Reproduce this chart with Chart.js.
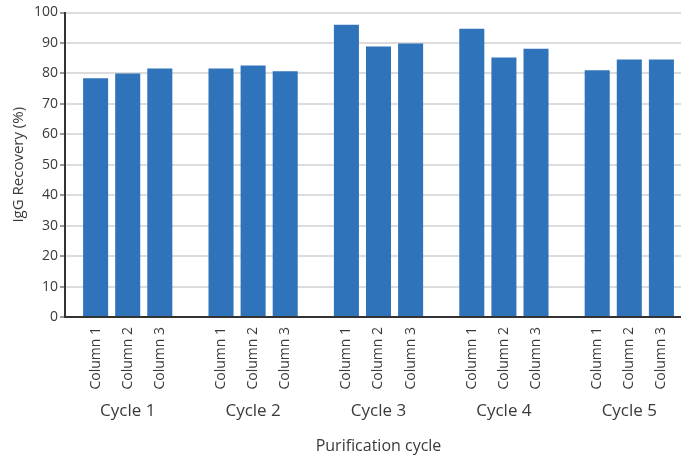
<!DOCTYPE html>
<html>
<head>
<meta charset="utf-8">
<script src="https://cdn.jsdelivr.net/npm/chart.js@4/dist/chart.umd.min.js"></script>
<style>
  html, body { margin: 0; padding: 0; background: #fff; overflow: hidden; }
  #wrap { width: 692px; height: 460px; }
</style>
</head>
<body>
<div id="wrap"><canvas id="recoveryChart"></canvas></div>
<script>
// IgG recovery per column, per purification cycle
const cycles = ['Cycle 1', 'Cycle 2', 'Cycle 3', 'Cycle 4', 'Cycle 5'];
const columns = ['Column 1', 'Column 2', 'Column 3'];
const column1 = [78.4, 81.6, 96.0, 94.7, 81.0];
const column2 = [80.0, 82.6, 88.8, 85.2, 84.6];
const column3 = [81.6, 80.7, 89.8, 88.1, 84.6];
const yTicks = [0, 10, 20, 30, 40, 50, 60, 70, 80, 90, 100];

const BAR_COLOR = '#2f73ba';
const TEXT_COLOR = '#3a3a3a';
const FONT = '"Open Sans", sans-serif';

// draws "Column n" under each bar, rotated
const columnLabels = {
    id: 'columnLabels',
    afterDraw(chart) {
        const ctx = chart.ctx;
        const bottom = chart.chartArea.bottom;
        ctx.save();
        ctx.fillStyle = TEXT_COLOR;
        ctx.font = '14px ' + FONT;
        ctx.textAlign = 'right';
        ctx.textBaseline = 'middle';
        chart.data.datasets.forEach((ds, i) => {
            chart.getDatasetMeta(i).data.forEach(bar => {
                ctx.save();
                ctx.translate(bar.x, bottom + 10);
                ctx.rotate(-Math.PI / 2);
                ctx.fillText(ds.label, 0, 0);
                ctx.restore();
            });
        });
        ctx.restore();
    }
};

const ctx = document.getElementById('recoveryChart').getContext('2d');

new Chart(ctx, {
    type: 'bar',
    data: {
        labels: cycles,
        datasets: [column1, column2, column3].map((vals, i) => ({
            label: columns[i],
            data: vals,
            backgroundColor: BAR_COLOR,
            borderWidth: 0,
            categoryPercentage: 0.768,
            barPercentage: 0.78
        }))
    },
    options: {
        responsive: true,
        maintainAspectRatio: false,
        animation: false,
        layout: {
            padding: { left: 6, top: 12.5, right: 0, bottom: 2 }
        },
        plugins: {
            legend: { display: false },
            tooltip: { enabled: false }
        },
        scales: {
            x: {
                grid: { display: false, drawTicks: false },
                border: { color: '#333', width: 2 },
                ticks: {
                    color: TEXT_COLOR,
                    font: { family: FONT, size: 17 },
                    padding: 84,
                    maxRotation: 0
                },
                title: {
                    display: true,
                    text: 'Purification cycle',
                    color: TEXT_COLOR,
                    font: { family: FONT, size: 16 },
                    padding: { top: 14, bottom: 2 }
                },
                // room under the bars for the rotated column labels
                afterFit: axis => {
                    axis.height = 141;
                    axis.paddingLeft = 0;
                    axis.paddingRight = 0;
                }
            },
            y: {
                min: 0,
                max: 100,
                afterBuildTicks: axis => {
                    axis.ticks = yTicks.map(v => ({ value: v }));
                },
                grid: {
                    color: '#dcdcdc',
                    lineWidth: 2,
                    tickColor: '#9a9a9a',
                    tickLength: 5
                },
                border: { color: '#333', width: 2 },
                ticks: {
                    color: TEXT_COLOR,
                    font: { family: FONT, size: 14 },
                    padding: 2
                },
                title: {
                    display: true,
                    text: 'IgG Recovery (%)',
                    color: TEXT_COLOR,
                    font: { family: FONT, size: 15 },
                    padding: { top: 4, bottom: 4 }
                }
            }
        }
    },
    plugins: [columnLabels]
});
</script>
</body>
</html>
